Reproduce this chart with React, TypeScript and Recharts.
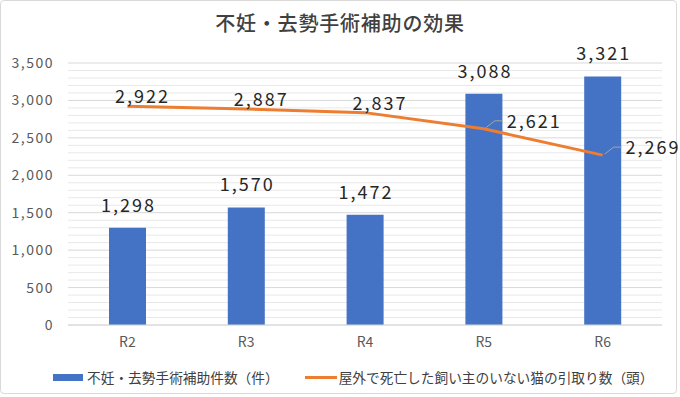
import React from "react";
import {
  ComposedChart,
  Bar,
  Line,
  XAxis,
  YAxis,
  CartesianGrid,
  Legend,
  LabelList,
  ReferenceLine,
} from "recharts";

const categories = ["R2", "R3", "R4", "R5", "R6"];
const surgerySubsidy = [1298, 1570, 1472, 3088, 3321];
const catIntake = [2922, 2887, 2837, 2621, 2269];
const majorTicks = [0, 500, 1000, 1500, 2000, 2500, 3000, 3500];
const minorTicks = [
  100, 200, 300, 400, 600, 700, 800, 900, 1100, 1200, 1300, 1400, 1600, 1700,
  1800, 1900, 2100, 2200, 2300, 2400, 2600, 2700, 2800, 2900, 3100, 3200, 3300,
  3400,
];
const barName = "不妊・去勢手術補助件数（件）";
const lineName = "屋外で死亡した飼い主のいない猫の引取り数（頭）";
const title = "不妊・去勢手術補助の効果";

const data = categories.map((c, i) => ({
  name: c,
  bar: surgerySubsidy[i],
  line: catIntake[i],
}));

const FONT = '"Noto Sans CJK JP", "Noto Sans", sans-serif';
const fmt = (v: number) => v.toLocaleString("en-US");

const BarLabel = (props: any) => {
  const { x, y, width, value } = props;
  return (
    <text
      x={x + width / 2 + 1}
      y={y - 16}
      textAnchor="middle"
      fontSize={18}
      letterSpacing={2}
      fill="#262626"
      fontFamily={FONT}
    >
      {fmt(value)}
    </text>
  );
};

const LineLabel = (props: any) => {
  const { x, y, value, index } = props;
  if (index < 3) {
    return (
      <text
        x={x + 15}
        y={y - 3}
        textAnchor="middle"
        fontSize={18}
        letterSpacing={2}
        fill="#262626"
        fontFamily={FONT}
      >
        {fmt(value)}
      </text>
    );
  }
  return (
    <g>
      <path
        d={`M${x + 2},${y - 1} L${x + 11},${y - 8} L${x + 19},${y - 8}`}
        stroke="#a6a6a6"
        strokeWidth={1}
        fill="none"
      />
      <text
        x={x + 23}
        y={y - 1}
        textAnchor="start"
        fontSize={18}
        letterSpacing={2}
        fill="#262626"
        fontFamily={FONT}
      >
        {fmt(value)}
      </text>
    </g>
  );
};

const LegendContent = () => (
  <div
    style={{
      display: "flex",
      alignItems: "center",
      fontFamily: FONT,
      fontSize: 13.7,
      color: "#404040",
      paddingLeft: 45,
      marginTop: 12,
    }}
  >
    <span
      style={{
        display: "inline-block",
        width: 30,
        height: 7,
        background: "#4472C4",
        marginRight: 4,
      }}
    />
    <span>{barName}</span>
    <span
      style={{
        display: "inline-block",
        width: 32,
        height: 3,
        background: "#ED7D31",
        marginLeft: 26,
        marginRight: 2,
      }}
    />
    <span>{lineName}</span>
  </div>
);

export default function App() {
  return (
    <div
      style={{
        position: "absolute",
        left: 0,
        top: 0,
        width: 680,
        height: 397,
        background: "#ffffff",
      }}
    >
      <div
        style={{
          position: "absolute",
          left: 0,
          top: 0,
          width: 677,
          height: 394,
          border: "1px solid #d9d9d9",
          borderRadius: 4,
          boxSizing: "border-box",
        }}
      />
      <div
        style={{
          position: "absolute",
          left: 0,
          top: 8,
          width: 680,
          textAlign: "center",
          fontFamily: FONT,
          fontSize: 20,
          fontWeight: 500,
          color: "#404040",
          letterSpacing: 0.8,
        }}
      >
        {title}
      </div>
      <div style={{ position: "absolute", left: 0, top: 0 }}>
        <ComposedChart
          width={680}
          height={397}
          data={data}
          margin={{ top: 63, right: 18, bottom: 2, left: 8 }}
        >
          <CartesianGrid vertical={false} stroke="#d9d9d9" strokeWidth={1} />
          {minorTicks.map((v) => (
            <ReferenceLine
              key={v}
              y={v}
              stroke="#e8e8e8"
              strokeWidth={1}
              zIndex={-100}
            />
          ))}
          <XAxis
            dataKey="name"
            height={30}
            axisLine={{ stroke: "#d9d9d9" }}
            tickLine={false}
            tick={{ fontSize: 14, fill: "#595959", fontFamily: FONT }}
            tickMargin={6}
          />
          <YAxis
            width={60}
            domain={[0, 3500]}
            ticks={majorTicks}
            axisLine={false}
            tickLine={false}
            tickFormatter={fmt}
            tick={{
              fontSize: 14,
              fill: "#595959",
              fontFamily: FONT,
              letterSpacing: 1.5,
            }}
            tickMargin={8}
          />
          <Legend
            verticalAlign="bottom"
            height={40}
            content={<LegendContent />}
          />
          <Bar
            dataKey="bar"
            name={barName}
            fill="#4472C4"
            barSize={37}
            isAnimationActive={false}
          >
            <LabelList dataKey="bar" content={<BarLabel />} />
          </Bar>
          <Line
            dataKey="line"
            name={lineName}
            stroke="#ED7D31"
            strokeWidth={3}
            dot={false}
            activeDot={false}
            isAnimationActive={false}
          >
            <LabelList dataKey="line" content={<LineLabel />} />
          </Line>
        </ComposedChart>
      </div>
    </div>
  );
}
